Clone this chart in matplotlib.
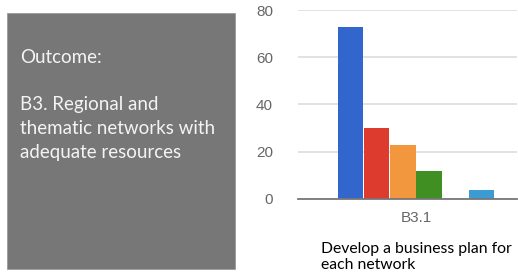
import matplotlib.pyplot as plt
import matplotlib.patches as mpatches
import numpy as np

category = ['B3.1']
series_values = [73, 30, 23, 12, 0, 4]
series_colors = ['#3366CC', '#DC3B2E', '#F2973E', '#3F8F22', '#990099', '#3C9BD2']
yticks = [0, 20, 40, 60, 80]
box_title = 'Outcome:'
box_lines = ['B3. Regional and', 'thematic networks with', 'adequate resources']
caption = ['Develop a business plan for', 'each network']

W, H = 518, 275
fig = plt.figure(figsize=(W/100, H/100), dpi=100)

# grey box on the left
fig.patches.append(mpatches.Rectangle((7/W, 1-269/H), 228/W, 256/H,
                                      transform=fig.transFigure, facecolor='#777777',
                                      edgecolor='#9a9a9a', linewidth=0.6))
fig.text(20/W, 1-49/H, box_title, color='#f4f4f4', fontsize=13.5,
         family='Lato', va='top', ha='left')
for i, line in enumerate(box_lines):
    fig.text(20/W, 1-(96+24*i)/H, line, color='#f4f4f4', fontsize=13.5,
             family='Lato', va='top', ha='left')

# bar chart
ax = fig.add_axes([298/W, 1-199/H, 219/W, 189/H])
n = len(series_values)
bw = 26.2/219
x0 = -n*bw/2 + bw/2
for i, (v, c) in enumerate(zip(series_values, series_colors)):
    if v > 0:
        ax.bar(x0 + i*bw, v, width=bw*0.97, color=c, zorder=3)
ax.set_xlim(-0.539, 0.461)
ax.set_ylim(0, 80)
ax.set_yticks(yticks)
ax.set_xticks([0])
ax.set_xticklabels(category)
ax.tick_params(length=0, labelsize=11, labelcolor='#666666')
ax.tick_params(axis='x', pad=9)
ax.tick_params(axis='y', pad=18)
for lbl in ax.get_xticklabels() + ax.get_yticklabels():
    lbl.set_family('Liberation Sans')
ax.grid(axis='y', color='#dddddd', linewidth=1.2, zorder=0)
for s in ['top', 'right', 'left']:
    ax.spines[s].set_visible(False)
ax.spines['bottom'].set_color('#777777')
ax.spines['bottom'].set_linewidth(1.3)
ax.spines['bottom'].set_zorder(4)

for i, line in enumerate(caption):
    fig.text(321/W, 1-(242+16*i)/H, line, fontsize=11.3, family='Lato',
             va='top', ha='left', color='black')

fig.savefig('out.png', dpi=100)
